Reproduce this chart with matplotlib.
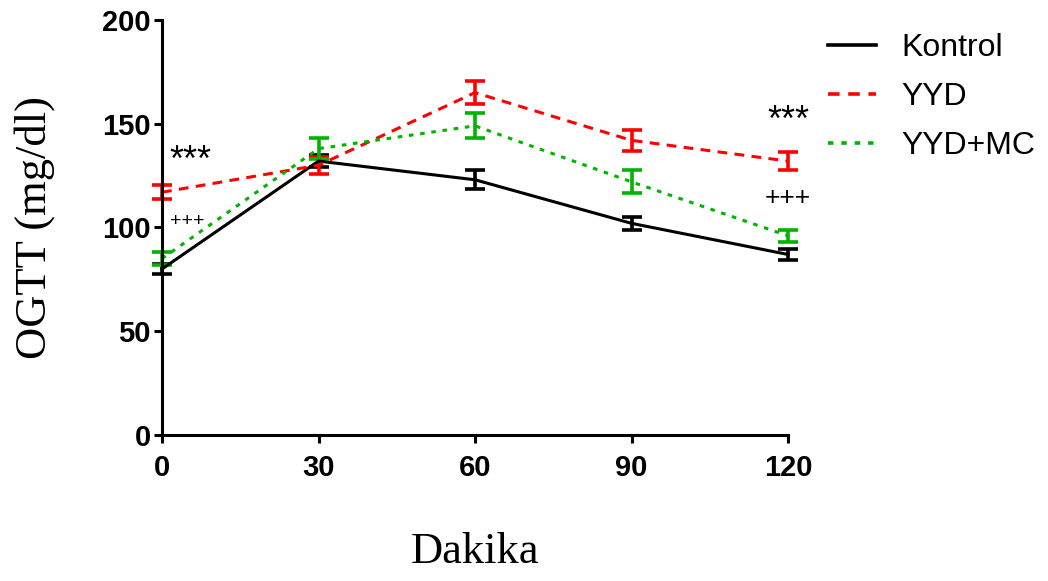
import numpy as np
import matplotlib
matplotlib.use('Agg')
import matplotlib.pyplot as plt
from matplotlib.lines import Line2D

# zaman noktalari (dakika)
dakika = [0, 30, 60, 90, 120]

kontrol = [80, 132, 123, 102, 87]
kontrol_err = [2.5, 3, 4.5, 3, 2.5]

yyd = [117, 130, 165, 142, 132]
yyd_err = [3.5, 4, 5.5, 5, 4.5]

yyd_mc = [85, 138, 149, 122, 96]
yyd_mc_err = [3, 5, 6, 5.5, 3]

yticks = [0, 50, 100, 150, 200]

plt.rcParams['font.family'] = ['Liberation Sans', 'DejaVu Sans']

fig = plt.figure(figsize=(10.48, 5.81), dpi=100)
ax = fig.add_axes([162 / 1048, 1 - 435 / 581, (788 - 162) / 1048, (435 - 20) / 581])

lw = 2.2
ekw = dict(elinewidth=2.6, capsize=7.5, capthick=2.6)
stiller = [
    (kontrol, kontrol_err, 'black', '-', 'Kontrol'),
    (yyd, yyd_err, '#ff0000', (0, (3.2, 2.4)), 'YYD'),
    (yyd_mc, yyd_mc_err, '#00b400', (0, (1.5, 2.2)), 'YYD+MC'),
]
handles = []
for vals, err, c, ls, lab in stiller:
    cont = ax.errorbar(dakika, vals, yerr=err, color=c, lw=lw, linestyle=ls, **ekw)
    cont[0].set_clip_on(False)
    for a in cont[1]:
        a.set_clip_on(False)
    for a in cont[2]:
        a.set_clip_on(False)
    handles.append(Line2D([], [], color=c, lw=2.6, linestyle=ls, label=lab))

ax.set_xlim(0, 120)
ax.set_ylim(0, 200)
ax.set_xticks(dakika)
ax.set_yticks(yticks)
for s in ['top', 'right']:
    ax.spines[s].set_visible(False)
for s in ['left', 'bottom']:
    ax.spines[s].set_linewidth(2.2)
ax.tick_params(width=2.2, length=6, labelsize=21)
ax.tick_params(axis='y', pad=2)
ax.tick_params(axis='x', pad=8)
for t in ax.get_xticklabels() + ax.get_yticklabels():
    t.set_fontweight('bold')

ax.set_ylabel('OGTT (mg/dl)', family='Liberation Serif', fontsize=32, labelpad=34)
ax.set_xlabel('Dakika', family='Liberation Serif', fontsize=32, labelpad=36)

# anlamlilik isaretleri
ax.text(1.5, 132, '***', fontsize=26, ha='left', va='center')
ax.text(1.5, 103, '+++', fontsize=14, ha='left', va='center')
ax.text(120, 151, '***', fontsize=26, ha='center', va='center')
ax.text(120, 114, '+++', fontsize=19, ha='center', va='center')

ax.legend(handles=handles, loc='upper left', bbox_to_anchor=(828 / 1048, 1 - 33 / 581),
          bbox_transform=fig.transFigure, frameon=False, fontsize=23,
          handlelength=1.5, handletextpad=0.8, labelspacing=0.6,
          borderpad=0, borderaxespad=0)

fig.savefig('out.png', dpi=100)
